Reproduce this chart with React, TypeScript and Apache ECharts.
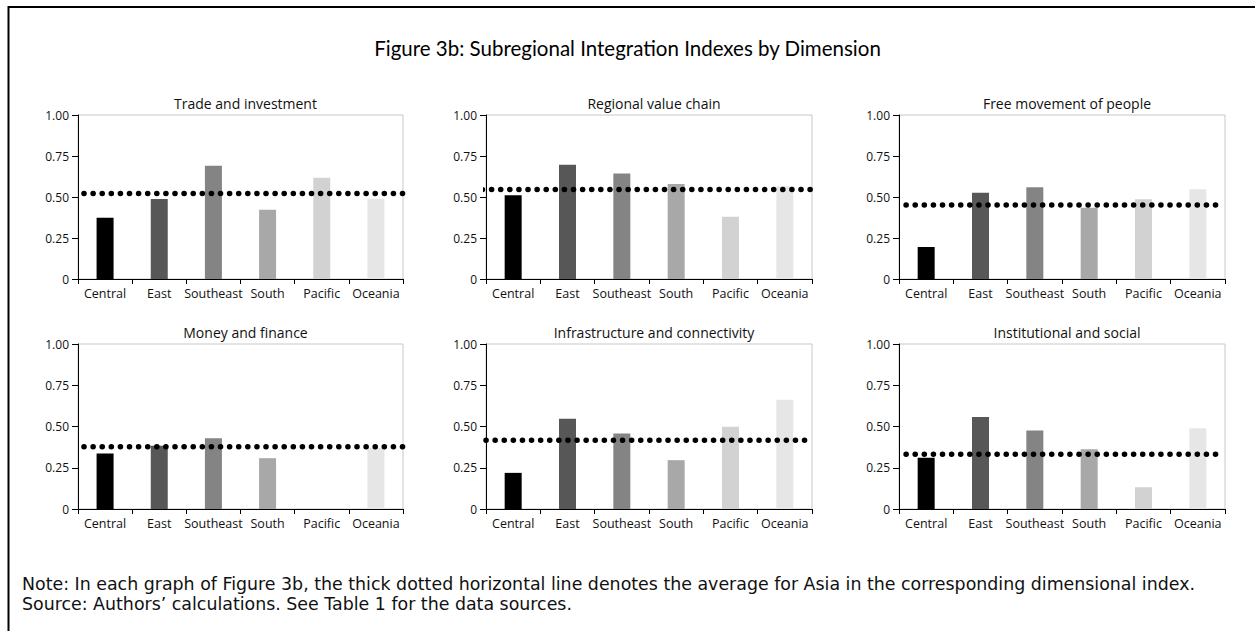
import React, { useEffect, useRef } from "react";
import * as echarts from "echarts";

const categories = ["Central", "East", "Southeast", "South", "Pacific", "Oceania"];
const panelTitles = [
  "Trade and investment",
  "Regional value chain",
  "Free movement of people",
  "Money and finance",
  "Infrastructure and connectivity",
  "Institutional and social",
];
const tradeInvestment = [0.374, 0.488, 0.691, 0.423, 0.618, 0.49];
const regionalValueChain = [0.51, 0.697, 0.644, 0.579, 0.38, 0.565];
const freeMovement = [0.195, 0.526, 0.559, 0.435, 0.486, 0.547];
const moneyFinance = [0.336, 0.383, 0.429, 0.308, 0, 0.37];
const infrastructure = [0.219, 0.547, 0.457, 0.296, 0.498, 0.662];
const institutional = [0.31, 0.557, 0.476, 0.362, 0.132, 0.49];
const asiaAverages = [0.522, 0.545, 0.451, 0.377, 0.417, 0.332];
const yTicks = [0, 0.25, 0.5, 0.75, 1];

const panelValues = [tradeInvestment, regionalValueChain, freeMovement, moneyFinance, infrastructure, institutional];

const barColors = ["#000000", "#575757", "#848484", "#a8a8a8", "#d2d2d2", "#e6e6e6"];
// layout (pixels)
const colLefts = [78, 486, 899];
const colWidths = [325, 326, 326];
const rowTops = [115, 344];
const rowHeights = [164, 165];
// dotted line extent in category-band units
const lineExtents: [number, number][] = [
  [0.11, 6.0],
  [-1.07, 6.0],
  [0.13, 5.87],
  [0.11, 6.0],
  [0.0, 5.87],
  [0.13, 5.87],
];

const TITLE_FONT = "Lato";
const FONT = "Open Sans";
const NOTE_FONT = "DejaVu Sans";

export default function App() {
  const ref = useRef<HTMLDivElement>(null);
  useEffect(() => {
    document.body.style.margin = "0";
    const chart = echarts.init(ref.current!, undefined, { renderer: "svg" });
    const grids: any[] = [];
    const xAxes: any[] = [];
    const yAxes: any[] = [];
    const series: any[] = [];
    const titles: any[] = [
      {
        text: "Figure 3b: Subregional Integration Indexes by Dimension",
        left: "center",
        top: 32,
        textStyle: { fontFamily: TITLE_FONT, fontSize: 20.5, fontWeight: "normal", color: "#000" },
      },
    ];
    panelValues.forEach((vals, i) => {
      const r = Math.floor(i / 3);
      const c = i % 3;
      grids.push({
        left: colLefts[c],
        top: rowTops[r],
        width: colWidths[c],
        height: rowHeights[r],
        show: true,
        borderColor: "#c8c8c8",
        borderWidth: 1,
        backgroundColor: "transparent",
      });
      xAxes.push({
        type: "category",
        gridIndex: i,
        data: categories,
        axisLine: { lineStyle: { color: "#000", width: 1 } },
        axisTick: { show: true, length: 5, lineStyle: { color: "#000" } },
        axisLabel: { interval: 0, fontFamily: FONT, fontSize: 12.5, color: "#111", margin: 8 },
      });
      xAxes.push({ type: "value", gridIndex: i, min: 0, max: 6, show: false });
      yAxes.push({
        type: "value",
        gridIndex: i,
        min: yTicks[0],
        max: yTicks[yTicks.length - 1],
        interval: 0.25,
        axisLine: { show: true, lineStyle: { color: "#000", width: 1 } },
        axisTick: { show: true, length: 6, lineStyle: { color: "#000" } },
        splitLine: { show: false },
        axisLabel: {
          fontFamily: FONT,
          fontSize: 12,
          color: "#111",
          margin: 9,
          formatter: (v: number) => (v === 0 ? "0" : v.toFixed(2)),
        },
      });
      series.push({
        type: "bar",
        xAxisIndex: 2 * i,
        yAxisIndex: i,
        barWidth: 17,
        data: vals.map((v, k) => ({ value: v, itemStyle: { color: barColors[k] } })),
        z: 2,
      });
      series.push({
        type: "line",
        xAxisIndex: 2 * i + 1,
        yAxisIndex: i,
        clip: false,
        showSymbol: false,
        symbol: "none",
        data: [
          [lineExtents[i][0], asiaAverages[i]],
          [lineExtents[i][1], asiaAverages[i]],
        ],
        lineStyle: { color: "#000", width: 5.5, type: [0.1, 9], cap: "round" },
        z: 5,
      });
      titles.push({
        text: panelTitles[i],
        left: colLefts[c] + colWidths[c] / 2,
        top: rowTops[r] - 24,
        textAlign: "center",
        textStyle: { fontFamily: FONT, fontSize: 14, fontWeight: "normal", color: "#111" },
      });
    });
    chart.setOption({
      animation: false,
      backgroundColor: "#fff",
      title: titles,
      grid: grids,
      xAxis: xAxes,
      yAxis: yAxes,
      series,
      graphic: [
        { type: "line", shape: { x1: 8, y1: 7, x2: 1255, y2: 7 }, style: { stroke: "#000", lineWidth: 2 } },
        { type: "line", shape: { x1: 8.5, y1: 6, x2: 8.5, y2: 631 }, style: { stroke: "#000", lineWidth: 2 } },
        {
          type: "text",
          x: 22,
          y: 584,
          style: {
            text: "Note: In each graph of Figure 3b, the thick dotted horizontal line denotes the average for Asia in the corresponding dimensional index.",
            font: `17.4px ${NOTE_FONT}`,
            fill: "#111",
            verticalAlign: "middle",
          },
        },
        {
          type: "text",
          x: 22,
          y: 604,
          style: {
            text: "Source: Authors\u2019 calculations. See Table 1 for the data sources.",
            font: `17.4px ${NOTE_FONT}`,
            fill: "#111",
            verticalAlign: "middle",
          },
        },
      ],
    });
    return () => chart.dispose();
  }, []);
  return <div ref={ref} style={{ width: 1255, height: 631 }} />;
}
